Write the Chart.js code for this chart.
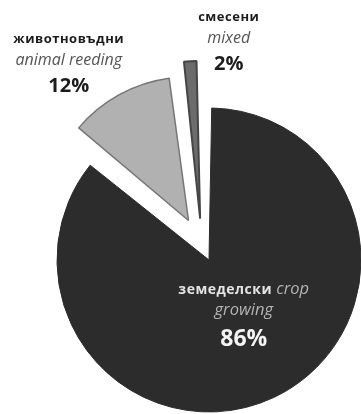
<!DOCTYPE html>
<html>
<head>
<meta charset="utf-8">
<script src="https://cdn.jsdelivr.net/npm/chart.js@4.4.1/dist/chart.umd.min.js"></script>
<style>
  html, body { margin: 0; padding: 0; background: #fff; overflow: hidden; }
  body { width: 361px; height: 414px; position: relative; }
  canvas { position: absolute; left: -20px; top: 0; }
</style>
</head>
<body>
<canvas id="farms" width="440" height="460"></canvas>
<script>
// Farm types, share of holdings (%)
const farmTypesBg = ['земеделски', 'животновъдни', 'смесени'];
const farmTypesEn = ['crop growing', 'animal reeding', 'mixed'];
const farmShares = [86, 12, 2];

const FONT = '"Open Sans", "DejaVu Sans", sans-serif';

// where each label block sits, measured from the pie centre;
// join = how many English words share the first line with the Bulgarian one
const labelSpots = [
  { dx: 42, dy: 45, join: 1, inner: true },
  { dx: -133, dy: -205, join: 0 },
  { dx: 27, dy: -227, join: 0 }
];

function drawRichLine(ctx, parts, cx, y) {
  let total = 0;
  parts.forEach(p => {
    ctx.font = p.font;
    ctx.letterSpacing = p.spacing || '0px';
    p.w = ctx.measureText(p.text).width;
    total += p.w;
  });
  let x = cx - total / 2;
  parts.forEach(p => {
    ctx.font = p.font;
    ctx.letterSpacing = p.spacing || '0px';
    ctx.fillStyle = p.color;
    ctx.fillText(p.text, x, y);
    x += p.w;
  });
}

const sliceLabels = {
  id: 'sliceLabels',
  afterDatasetsDraw(chart) {
    const ctx = chart.ctx;
    const arcs = chart.getDatasetMeta(0).data;
    ctx.save();
    ctx.textAlign = 'left';
    ctx.textBaseline = 'middle';
    arcs.forEach((arc, i) => {
      const spot = labelSpots[i];
      const inner = !!spot.inner;
      const cx = arc.x + spot.dx;
      let y = arc.y + spot.dy;
      const boldCol = inner ? '#e4e4e4' : '#1c1c1c';
      const italCol = inner ? '#b4b4b4' : '#555555';
      const pctCol = inner ? '#f4f4f4' : '#1c1c1c';
      const bold = 'bold ' + (inner ? 14 : 13) + 'px ' + FONT;
      const ital = 'italic ' + (inner ? 16.5 : 16) + 'px ' + FONT;
      const pct = 'bold ' + (inner ? 23 : 20) + 'px ' + FONT;
      const words = farmTypesEn[i].split(' ');
      const first = words.slice(0, spot.join).join(' ');
      const rest = words.slice(spot.join).join(' ');

      const line1 = [{ text: farmTypesBg[i], font: bold, color: boldCol, spacing: '0.5px' }];
      if (first) line1.push({ text: ' ' + first, font: ital, color: italCol });
      drawRichLine(ctx, line1, cx, y);
      y += 21;
      drawRichLine(ctx, [{ text: rest, font: ital, color: italCol }], cx, y);
      y += inner ? 29 : 26;
      drawRichLine(ctx, [{ text: farmShares[i] + '%', font: pct, color: pctCol }], cx, y);
    });
    ctx.restore();
  }
};

new Chart(document.getElementById('farms'), {
  type: 'pie',
  data: {
    labels: farmTypesBg,
    datasets: [{
      data: farmShares,
      backgroundColor: ['#2c2c2c', '#b1b1b1', '#6c6c6c'],
      borderColor: ['#2c2c2c', '#767676', '#454545'],
      borderWidth: [1, 1.5, 2],
      // exploded slices; Chart.js moves each arc by a quarter of this
      offset: [68, 110, 104],
      hoverOffset: 0
    }]
  },
  options: {
    responsive: false,
    animation: false,
    layout: { padding: { left: 30.76, top: 53.6, right: 27.24, bottom: 24.4 } },
    plugins: {
      legend: { display: false },
      tooltip: { enabled: false }
    }
  },
  plugins: [sliceLabels]
});
</script>
</body>
</html>
